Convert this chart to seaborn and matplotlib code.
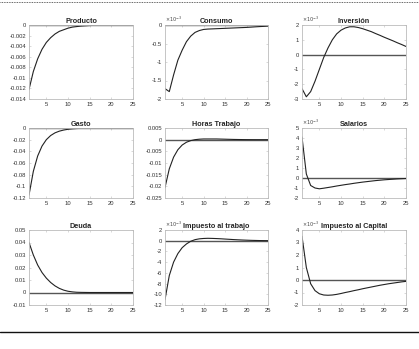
import numpy as np
import pandas as pd
import matplotlib
matplotlib.use("Agg")
import matplotlib.pyplot as plt
import seaborn as sns

# Periods
periodos = list(range(1, 26))

# Impulse responses
producto = [-0.0122, -0.0088, -0.0064, -0.0046, -0.0033, -0.0024, -0.0017, -0.0012,
            -0.0009, -0.0006, -0.0004, -0.0003, -0.0002, -0.00015, -0.0001, -0.00007,
            -0.00005, -0.00003, -0.00002, -0.00001, 0.0, 0.0, 0.0, 0.0, 0.0]
# consumo, inversion, salarios and taxes are in units of 1e-3
consumo_e3 = [-1.72, -1.8, -1.35, -0.95, -0.68, -0.45, -0.3, -0.2, -0.15, -0.12,
              -0.11, -0.105, -0.1, -0.095, -0.09, -0.085, -0.08, -0.075, -0.07, -0.065,
              -0.058, -0.05, -0.043, -0.037, -0.03]
inversion_e3 = [-2.3, -2.85, -2.5, -1.8, -1.0, -0.2, 0.45, 1.0, 1.4, 1.65, 1.8, 1.88,
                1.88, 1.83, 1.75, 1.65, 1.55, 1.42, 1.3, 1.17, 1.05, 0.93, 0.8, 0.68, 0.55]
gasto = [-0.115, -0.0743, -0.048, -0.031, -0.02, -0.0129, -0.0083, -0.0054, -0.0035,
         -0.0022, -0.0014, -0.0009, -0.0006, -0.0004, -0.00025, -0.00016, -0.0001,
         -0.00007, -0.00004, -0.00003, -0.00002, -0.00001, 0.0, 0.0, 0.0]
horas = [-0.0205, -0.0125, -0.0075, -0.0043, -0.0023, -0.0011, -0.0004, 0.0, 0.0002,
         0.0003, 0.0003, 0.0003, 0.0003, 0.00025, 0.0002, 0.00015, 0.0001, 0.00007,
         0.00004, 0.00002, 0.00001, 0.0, 0.0, 0.0, 0.0]
salarios_e3 = [4.1, 0.4, -0.75, -1.0, -1.08, -1.02, -0.95, -0.88, -0.8, -0.73, -0.66,
               -0.6, -0.53, -0.47, -0.41, -0.36, -0.31, -0.26, -0.22, -0.18, -0.15,
               -0.12, -0.09, -0.07, -0.05]
deuda = [0.04, 0.03, 0.022, 0.016, 0.0115, 0.008, 0.0053, 0.0033, 0.0019, 0.001,
         0.0005, 0.0002, 0.0001, 0.00005, 0.0, 0.0, 0.0, 0.0, 0.0, 0.0, 0.0, 0.0,
         0.0, 0.0, 0.0]
imp_trabajo_e3 = [-11.0, -6.5, -4.0, -2.4, -1.3, -0.6, -0.1, 0.2, 0.35, 0.42, 0.45,
                  0.43, 0.4, 0.36, 0.31, 0.26, 0.21, 0.17, 0.13, 0.1, 0.07, 0.05, 0.03,
                  0.02, 0.01]
imp_capital_e3 = [3.5, 1.0, -0.3, -0.85, -1.1, -1.2, -1.22, -1.2, -1.15, -1.08, -1.0,
                  -0.93, -0.85, -0.78, -0.7, -0.63, -0.56, -0.49, -0.42, -0.36, -0.3,
                  -0.25, -0.2, -0.15, -0.11]

titulos = ["Producto", "Consumo", "Inversión", "Gasto", "Horas Trabajo", "Salarios",
           "Deuda", "Impuesto al trabajo", "Impuesto al Capital"]
series = [producto, consumo_e3, inversion_e3, gasto, horas, salarios_e3, deuda,
          imp_trabajo_e3, imp_capital_e3]
escala = [False, True, True, False, False, True, False, True, True]
ylims = [(-0.014, 0), (-2, 0), (-3, 2), (-0.12, 0), (-0.025, 0.005), (-2, 5),
         (-0.01, 0.05), (-12, 2), (-2, 4)]
ypasos = [0.002, 0.5, 1, 0.02, 0.005, 1, 0.01, 2, 1]

sns.set_style("white")
plt.rcParams["font.family"] = ["Liberation Sans", "DejaVu Sans"]
plt.rcParams["axes.unicode_minus"] = False

fig = plt.figure(figsize=(4.19, 3.49), dpi=100)
W, H = 419, 349
lefts = [29, 165, 302]
rights = [133, 268, 406]
tops = [25, 128, 230]
bottoms = [99, 198, 305]


def fmt(v):
    s = ("%.4f" % v).rstrip("0").rstrip(".")
    if s in ("-0", ""):
        s = "0"
    return s


for i in range(9):
    r, c = divmod(i, 3)
    ax = fig.add_axes([lefts[c] / W, 1 - bottoms[r] / H,
                       (rights[c] - lefts[c]) / W, (bottoms[r] - tops[r]) / H])
    df = pd.DataFrame({"t": periodos, "y": series[i]})
    ax.axhline(0, color="#555555", lw=1.0, zorder=1)
    sns.lineplot(data=df, x="t", y="y", ax=ax, color="#222222", lw=0.8, zorder=2)
    ax.set_xlim(1, 25)
    lo, hi = ylims[i]
    ax.set_ylim(lo, hi)
    ax.set_xticks([5, 10, 15, 20, 25])
    yt = np.arange(lo, hi + ypasos[i] / 2, ypasos[i])
    ax.set_yticks(yt)
    ax.set_yticklabels([fmt(v) for v in yt])
    ax.set_xlabel("")
    ax.set_ylabel("")
    ax.set_title(titulos[i], fontsize=5.2, fontweight="bold", pad=1.5)
    ax.tick_params(direction="in", length=1.5, width=0.4, labelsize=4.2,
                   pad=2, colors="#bbbbbb", labelcolor="#333333")
    ax.tick_params(top=True, right=True, bottom=True, left=True)
    for s in ax.spines.values():
        s.set_color("#bbbbbb")
        s.set_linewidth(0.6)
    if escala[i]:
        ax.text(0.0, 1.01, r"$\times10^{-3}$", transform=ax.transAxes,
                fontsize=3.5, color="#444444", ha="left", va="bottom")

# top dotted rule and bottom solid rule
fig.add_artist(plt.Line2D([0, 1], [1 - 2 / H, 1 - 2 / H], color="#333333",
                          lw=0.6, ls=(0, (1, 1))))
fig.add_artist(plt.Line2D([0, 1], [1 - 332 / H, 1 - 332 / H], color="#111111",
                          lw=1.0))

fig.savefig("out.png", dpi=100)
